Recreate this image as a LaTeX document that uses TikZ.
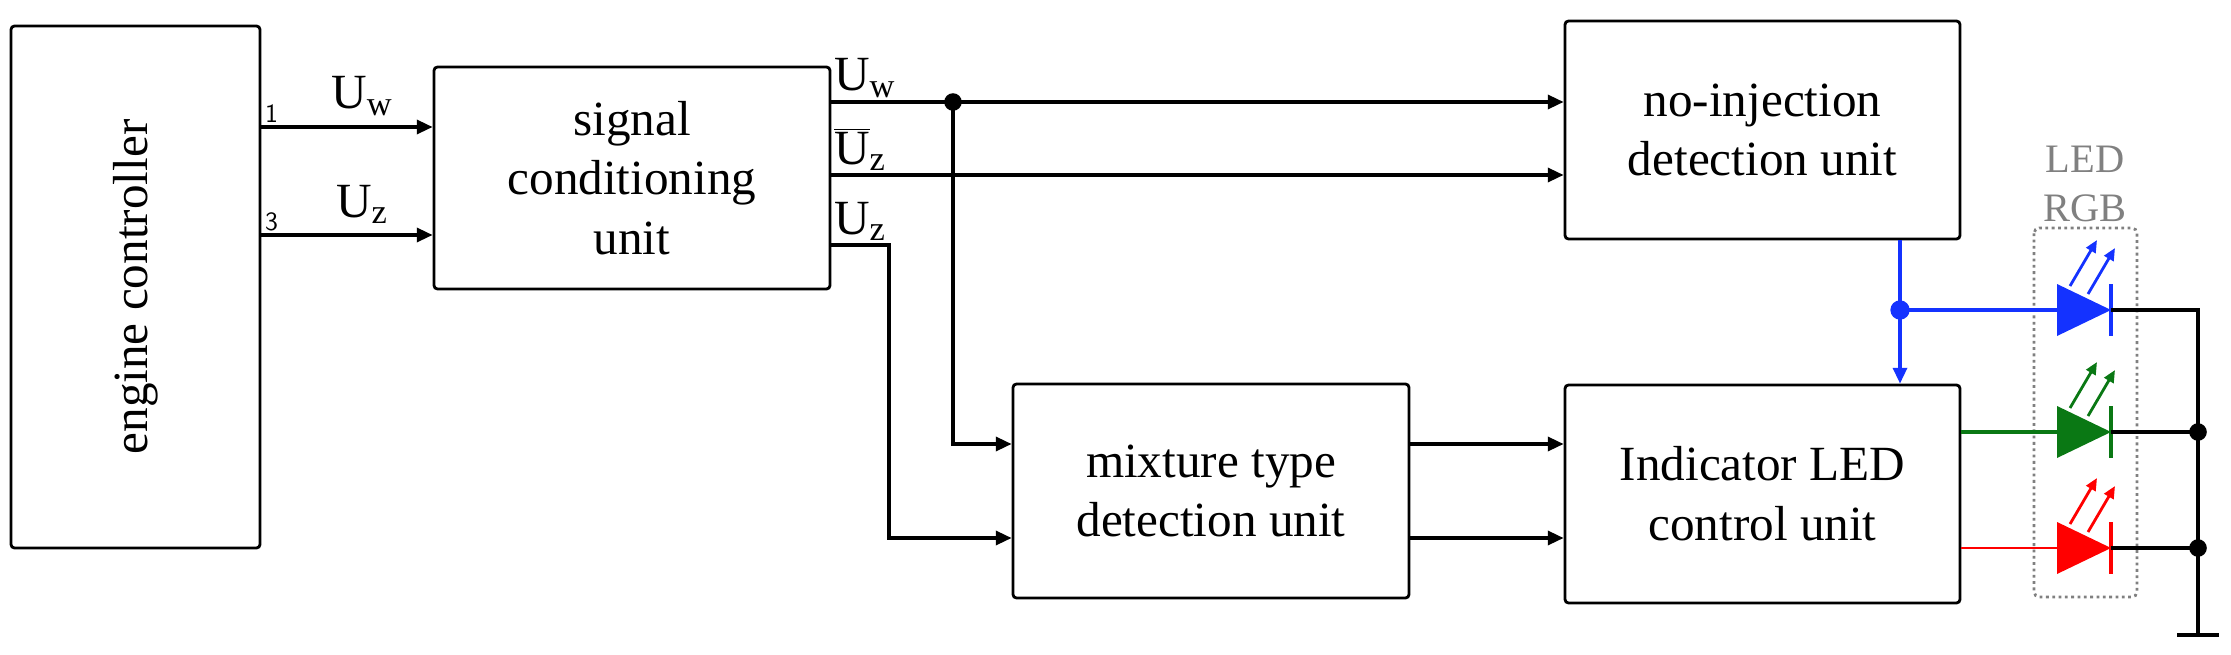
\documentclass[tikz,border=0pt]{standalone}
\usepackage{fontspec}
\setmainfont{Liberation Serif}
\usetikzlibrary{arrows.meta}
\definecolor{lblue}{RGB}{20,50,255}
\definecolor{lgreen}{RGB}{10,120,20}
\definecolor{lred}{RGB}{255,0,0}
\begin{document}
\begin{tikzpicture}[x=0.02cm,y=-0.02cm,
  box/.style={draw,line width=1.6pt,rounded corners=2pt,inner sep=0pt,align=center,font=\fontsize{28}{34}\selectfont},
  wire/.style={line width=1.8pt},
  arr/.style={wire,-{Triangle[length=9pt,width=8pt]}},
  sig/.style={font=\fontsize{28}{32}\selectfont,inner sep=1pt},
  pin/.style={font=\fontsize{15}{17}\selectfont\sffamily,inner sep=1pt},
  dot/.style={circle,fill,inner sep=0pt,minimum size=10pt}]
\useasboundingbox (0,0) rectangle (2231,655);
% boxes
\node[box,minimum width=249*0.02cm,minimum height=522*0.02cm] (ec) at (135.5,287) {\rotatebox{90}{engine controller}};
\node[box,minimum width=396*0.02cm,minimum height=222*0.02cm] (sc) at (632,178) {signal\\conditioning\\unit};
\node[box,minimum width=395*0.02cm,minimum height=218*0.02cm] (ni) at (1762.5,130) {no-injection\\detection unit};
\node[box,minimum width=396*0.02cm,minimum height=214*0.02cm] (mx) at (1211,491) {mixture type\\detection unit};
\node[box,minimum width=395*0.02cm,minimum height=218*0.02cm] (ic) at (1762.5,494) {Indicator LED\\control unit};
% inputs
\draw[arr] (ec.east |- 0,127) -- (sc.west |- 0,127);
\draw[arr] (ec.east |- 0,235) -- (sc.west |- 0,235);
\node[pin,anchor=south west] (p1) at (263,125) {1};
\node[pin,anchor=south west] (p3) at (263,233) {3};
\node[sig,anchor=south] (uw1) at (362,118) {U\textsubscript{w}};
\node[sig,anchor=south] (uz1) at (362,226) {U\textsubscript{z}};
% outputs
\coordinate (j1) at (953,102);
\node[dot] (d1) at (j1) {};
\draw[arr] (sc.east |- 0,102) -- (ni.west |- 0,102);
\draw[arr] (sc.east |- 0,175) -- (ni.west |- 0,175);
\draw[arr] (d1.center) |- (mx.west |- 0,444);
\coordinate (k1) at (889,245);
\draw[arr] (sc.east |- 0,245) -- (k1) |- (mx.west |- 0,538);
\node[sig,anchor=south west] (uw2) at (832,100) {U\textsubscript{w}};
\node[sig,anchor=south west] (uzb) at (832,173) {$\overline{\hbox{U}}$\textsubscript{z}};
\node[sig,anchor=south west] (uz2) at (832,243) {U\textsubscript{z}};
\draw[arr] (mx.east |- 0,444) -- (ic.west |- 0,444);
\draw[arr] (mx.east |- 0,538) -- (ic.west |- 0,538);
% blue path
\coordinate (bj) at (1900,310);
\node[dot,lblue,minimum size=11pt] (bd) at (bj) {};
\draw[wire,lblue] (ni.south -| bj) -- (bd.center);
\draw[wire,lblue,-{Triangle[length=9pt,width=8pt]}] (bd.center) -- (ic.north -| bj);
% LED box
\draw[gray,dotted,line width=1.6pt,rounded corners=3pt] (2034,228) rectangle (2137,597);
\node[font=\fontsize{23}{28}\selectfont,text=gray,align=center] (lt) at (2085,184) {LED\\RGB};
% LEDs
\foreach \y/\c/\nm in {310/lblue/b,432/lgreen/g,548/lred/r}{
  \fill[\c] (2057,\y-26) -- (2111,\y) -- (2057,\y+26) -- cycle;
  \draw[\c,line width=2.8pt] (2111,\y-26) -- (2111,\y+26);
  \draw[\c,line width=1.6pt,-{Triangle[length=7pt,width=6pt]}] (2070,\y-24) -- (2097,\y-70);
  \draw[\c,line width=1.6pt,-{Triangle[length=7pt,width=6pt]}] (2088,\y-16) -- (2115,\y-62);
}
\coordinate (lb) at (2057,310);
\coordinate (lg) at (2057,432);
\coordinate (lr) at (2057,548);
\draw[wire,lblue] (bd.center) -- (lb);
\draw[wire,lgreen] (ic.east |- lg) -- (lg);
\draw[wire,lred,line width=1.4pt] (ic.east |- lr) -- (lr);
% right bus
\coordinate (gnd) at (2198,635);
\node[dot] (gd) at (2198,432) {};
\node[dot] (rd) at (2198,548) {};
\draw[wire] (2111,310) -| (gnd);
\draw[wire] (2111,432) -- (gd.center);
\draw[wire] (2111,548) -- (rd.center);
\draw[line width=2.6pt] (2177,635) -- (2219,635);
\end{tikzpicture}
\end{document}
